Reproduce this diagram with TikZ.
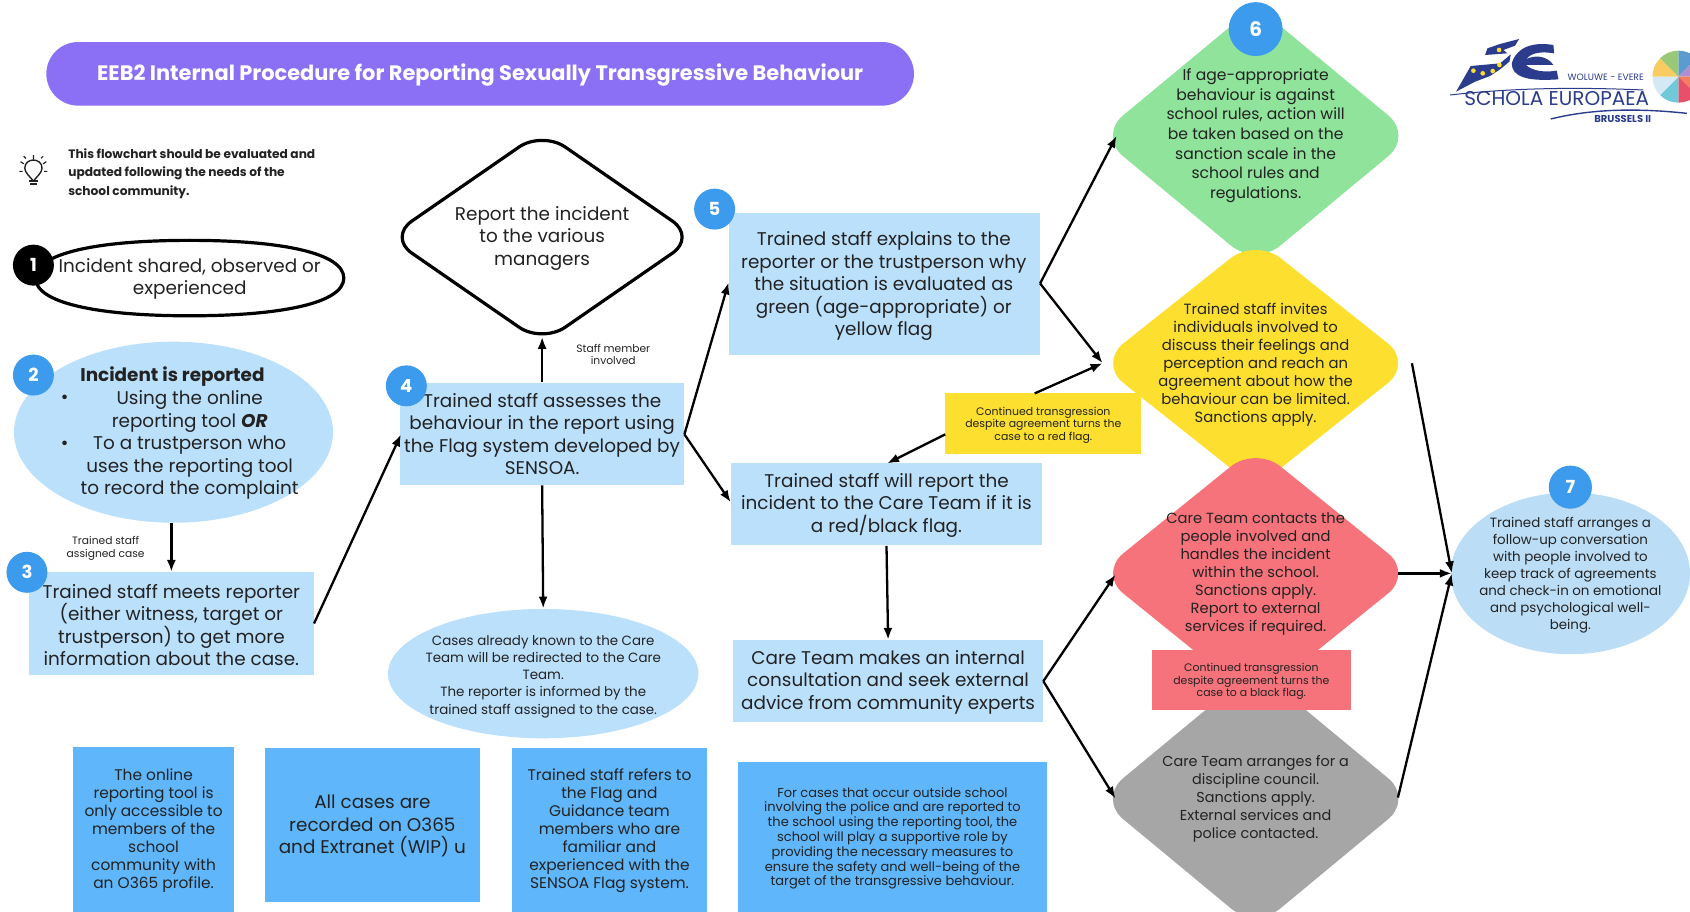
\documentclass[tikz,border=0pt]{standalone}
\usepackage{fontspec}
\setmainfont{Poppins}
\usetikzlibrary{arrows.meta,shapes.geometric}
\definecolor{purp}{HTML}{8B70F6}
\definecolor{lblue}{HTML}{BBE0FB}
\definecolor{mblue}{HTML}{5FB6FA}
\definecolor{badge}{HTML}{3D9BEE}
\definecolor{gdia}{HTML}{8FE39B}
\definecolor{ydia}{HTML}{FDE02F}
\definecolor{rdia}{HTML}{F6737C}
\definecolor{gray7}{HTML}{A6A6A6}
\definecolor{ink}{HTML}{222222}
\definecolor{logob}{HTML}{2B3C8C}
\definecolor{sevenb}{HTML}{BBDDF5}
\def\u{0.5389pt}
\tikzset{
 tx/.style={align=center,inner sep=0pt,text=ink,yshift=-1pt,font=\fontsize{9.2}{11.25}\selectfont},
 txs/.style={tx,font=\fontsize{7.7}{9}\selectfont},
 txm/.style={tx,font=\fontsize{6.5}{7.4}\selectfont},
 txn/.style={tx,font=\fontsize{5.35}{6.1}\selectfont},
 box/.style={rectangle,inner sep=0pt,draw=none,fill=#1},
 dia/.style={diamond,inner sep=0pt,rounded corners=16pt,fill=#1},
 badgec/.style={circle,inner sep=0pt,minimum size=38*\u,fill=#1,text=white,font=\fontsize{9}{10}\selectfont\bfseries},
 arr/.style={draw=black,line width=1.15pt,-{Latex[length=6pt,width=4.5pt]}},
}
\begin{document}
\begin{tikzpicture}[x=\u,y=-\u]
\useasboundingbox (0,0) rectangle (1568,846);
\clip (0,0) rectangle (1568,846);
\fill[white] (0,0) rectangle (1568,846);
% title
\node[box=purp,rounded corners=29.5*\u,minimum width=805*\u,minimum height=59*\u] (title) at (445.5,68.5) {};
\node[tx,text=white,font=\fontsize{10.45}{12}\selectfont\bfseries] (titlet) at (445.5,68) {EEB2 Internal Procedure for Reporting Sexually Transgressive Behaviour};
% bulb
\draw[line width=.7pt,draw=ink] (31,168) .. controls (27,163) and (23,160) .. (23,156) .. controls (23,146) and (39,146) .. (39,156) .. controls (39,160) and (35,163) .. (31,168);
\draw[line width=.9pt,draw=ink] (27,168) -- (35,168) (28,171) -- (34,171);
\draw[line width=.6pt,draw=ink] (31,148) -- (31,144) (22,152) -- (19,150) (40,152) -- (43,150) (21,159) -- (18,159) (41,159) -- (44,159) (24,147) -- (22,145) (38,147) -- (40,145);
\node[tx,align=left,anchor=west,font=\fontsize{6.1}{9.2}\selectfont\bfseries] (note) at (63,159) {This flowchart should be evaluated and\\updated following the needs of the\\school community.};
% 1
\draw[line width=1.6pt,draw=black,fill=white] (33,258) .. controls (33,235) and (90,223) .. (176,223) .. controls (262,223) and (319,235) .. (319,258) .. controls (319,281) and (262,293) .. (176,293) .. controls (90,293) and (33,281) .. (33,258) -- cycle;
\node[tx] (t1) at (176,257) {Incident shared, observed or\\experienced};
\node[badgec=black] (b1) at (31,246) {1};
% 2
\node[ellipse,inner sep=0pt,fill=lblue,minimum width=296*\u,minimum height=168*\u] (e2) at (161,401) {};
\node[tx] (t2) at (176,411) {Using the online\\reporting tool \textbf{\textit{OR}}\\To a trustperson who\\uses the reporting tool\\to record the complaint};
\node[tx,font=\fontsize{9.2}{11.25}\selectfont\bfseries] (t2h) at (160,348) {Incident is reported};
\node[tx] (bu1) at (60,369) {•};
\node[tx] (bu2) at (60,411) {•};
\node[badgec=badge] (b2) at (31,348) {2};
% 3
\node[box=lblue,minimum width=264*\u,minimum height=95*\u] (s3) at (159,578.5) {};
\node[tx] (t3) at (159,578) {Trained staff meets reporter\\(either witness, target or\\trustperson) to get more\\information about the case.};
\node[badgec=badge] (b3) at (25,531) {3};
\node[txn] (l3) at (98,507) {Trained staff\\assigned case};
% 4
\node[box=lblue,minimum width=264*\u,minimum height=95*\u] (s4) at (503,402.5) {};
\node[tx] (t4) at (503,401) {Trained staff assesses the\\behaviour in the report using\\the Flag system developed by\\SENSOA.};
\node[badgec=badge] (b4) at (377,358) {4};
% report diamond
\node[diamond,aspect=1.444,inner sep=0pt,rounded corners=14pt,draw=black,line width=1.6pt,fill=white,minimum width=286*\u,minimum height=198*\u] (rd) at (503,220) {};
\node[tx] (rdt) at (503,219) {Report the incident\\to the various\\managers};
\node[txn] (l4) at (569,327) {Staff member\\involved};
% cases ellipse
\node[ellipse,inner sep=0pt,fill=lblue,minimum width=288*\u,minimum height=120*\u] (e4) at (504,625) {};
\node[txm,font=\fontsize{6.7}{8.55}\selectfont] (e4t) at (504,626) {Cases already known to the Care\\Team will be redirected to the Care\\Team.\\The reporter is informed by the\\trained staff assigned to the case.};
% 5
\node[box=lblue,minimum width=289*\u,minimum height=131*\u] (s5) at (820.5,263.5) {};
\node[tx] (t5) at (820,263.5) {Trained staff explains to the\\reporter or the trustperson why\\the situation is evaluated as\\green (age-appropriate) or\\yellow flag};
\node[badgec=badge] (b5) at (663,194) {5};
% report to care
\node[box=lblue,minimum width=289*\u,minimum height=76*\u] (s5b) at (822.5,468) {};
\node[tx] (t5b) at (822.5,467) {Trained staff will report the\\incident to the Care Team if it is\\a red/black flag.};
\node[box=lblue,minimum width=288*\u,minimum height=76*\u] (s5c) at (824,632) {};
\node[tx] (t5c) at (824,631) {Care Team makes an internal\\consultation and seek external\\advice from community experts};
% diamonds
\node[dia=gdia,minimum width=292*\u,minimum height=242*\u,aspect=1.207] (d6) at (1165,126) {};
\node[dia=gray7,minimum width=292*\u,minimum height=242*\u,aspect=1.207] (d9) at (1165,741) {};
\node[dia=ydia,minimum width=292*\u,minimum height=232*\u,aspect=1.258] (d7) at (1165,337) {};
\node[dia=rdia,minimum width=292*\u,minimum height=236*\u,aspect=1.237] (d8) at (1165,532) {};
\node[txs,font=\fontsize{7.8}{9.8}\selectfont] (d6t) at (1165,124) {If age-appropriate\\behaviour is against\\school rules, action will\\be taken based on the\\sanction scale in the\\school rules and\\regulations.};
\node[txs,font=\fontsize{7.4}{9.05}\selectfont] (d7t) at (1165,336.5) {Trained staff invites\\individuals involved to\\discuss their feelings and\\perception and reach an\\agreement about how the\\behaviour can be limited.\\Sanctions apply.};
\node[txs,font=\fontsize{7.35}{9.05}\selectfont] (d8t) at (1165,530.5) {Care Team contacts the\\people involved and\\handles the incident\\within the school.\\Sanctions apply.\\Report to external\\services if required.};
\node[txs,font=\fontsize{7.2}{9.05}\selectfont] (d9t) at (1165,739.5) {Care Team arranges for a\\discipline council.\\Sanctions apply.\\External services and\\police contacted.};
\node[badgec=badge,minimum size=50*\u,font=\fontsize{10}{11}\selectfont\bfseries] (b6) at (1165,27) {6};
% small boxes
\node[box=ydia,minimum width=182*\u,minimum height=56*\u] (yb) at (968,393) {};
\node[txn,font=\fontsize{5.45}{6.2}\selectfont] (ybt) at (968,392.5) {Continued transgression\\despite agreement turns the\\case to a red flag.};
\node[box=rdia,minimum width=184*\u,minimum height=56*\u] (rb) at (1161,631) {};
\node[txn,font=\fontsize{5.45}{6.2}\selectfont] (rbt) at (1161,630.5) {Continued transgression\\despite agreement turns the\\case to a black flag.};
% 7
\node[ellipse,inner sep=0pt,fill=sevenb,minimum width=222*\u,minimum height=150*\u] (e7) at (1457,532) {};
\node[txm,font=\fontsize{6.7}{8.5}\selectfont] (e7t) at (1457,531.5) {Trained staff arranges a\\follow-up conversation\\with people involved to\\keep track of agreements\\and check-in on emotional\\and psychological well-\\being.};
\node[badgec=badge,minimum size=40*\u] (b7) at (1457,452) {7};
% bottom boxes
\node[box=mblue,minimum width=149*\u,minimum height=153*\u] (n1) at (142.5,769.5) {};
\node[txs] (n1t) at (142.5,769) {The online\\reporting tool is\\only accessible to\\members of the\\school\\community with\\an O365 profile.};
\node[box=mblue,minimum width=199*\u,minimum height=143*\u] (n2) at (345.5,765.5) {};
\node[tx] (n2t) at (345.5,764.5) {All cases are\\recorded on O365\\and Extranet (WIP) u};
\node[box=mblue,minimum width=181*\u,minimum height=152*\u] (n3) at (565.5,770) {};
\node[txs] (n3t) at (565.5,769) {Trained staff refers to\\the Flag and\\Guidance team\\members who are\\familiar and\\experienced with the\\SENSOA Flag system.};
\node[box=mblue,minimum width=286*\u,minimum height=139*\u] (n4) at (828,776.5) {};
\node[txm] (n4t) at (828,776) {For cases that occur outside school\\involving the police and are reported to\\the school using the reporting tool, the\\school will play a supportive role by\\providing the necessary measures to\\ensure the safety and well-being of the\\target of the transgressive behaviour.};
% connector points
\coordinate (j1) at (1023,337);
\coordinate (j7) at (1347,532);
\coordinate (d7r) at (1310,337);
\coordinate (a4) at (372,403);
\coordinate (s4r) at (635,403);
\coordinate (d8o) at (1297,532);
\coordinate (d9o) at (1297,740);
\coordinate (s5in) at (676,262);
\coordinate (s5bin) at (678,466);
\coordinate (s5o) at (965,263);
\coordinate (d6in) at (1036,126);
\coordinate (cco) at (968,632);
\coordinate (d8in) at (1035,533);
\coordinate (d9in) at (1035,741);
\coordinate (yn) at (960,365);
\coordinate (yw) at (877,403);
\coordinate (yt) at (823,430);
% connectors
\draw[arr] (e2.south -| s3.north) -- (s3.north);
\draw[arr] (s3.east) -- (a4);
\draw[arr] (s4.north) -- ([yshift=4.3pt]rd.south);
\draw[arr] (s4.south) -- (e4.north);
\draw[arr] (s4r) -- (s5in);
\draw[arr] (s4r) -- (s5bin);
\draw[arr] (s5b.south) -- (s5c.north);
\draw[arr] (s5o) -- (d6in);
\draw[arr] (s5o) -- (j1);
\draw[arr] (yn) -- (j1);
\draw[arr] (yw) -- (yt);
\draw[arr] (cco) -- (d8in);
\draw[arr] (cco) -- (d9in);
\draw[arr] (d7r) -- (j7);
\draw[arr] (d8o) -- (j7);
\draw[arr] (d9o) -- (j7);
% logo
\begin{scope}[shift={(1299,0)},x=0.3093*\u,y=-0.3093*\u]
\fill[logob] (168,275) -- (212,198) -- (300,190) -- (332,163) -- (328,185) -- (300,208) -- (270,228) -- (225,245) -- cycle;
\fill[logob] (255,165) -- (262,145) -- (300,132) -- (357,117) -- (345,137) -- (310,150) -- (322,160) -- cycle;
\fill[logob] (460,135) .. controls (400,125) and (350,140) .. (335,190) .. controls (335,230) and (380,245) .. (475,238) -- (470,212) .. controls (430,218) and (395,212) .. (378,195) -- (460,195) .. controls (440,165) and (400,165) .. (378,178) .. controls (395,155) and (430,155) .. (462,160) -- cycle;
\foreach \p in {(220,212),(248,220),(278,213),(298,195),(297,150)} \fill[ydia] \p circle (7);
\node[inner sep=0pt,text=logob,font=\fontsize{4.6}{5}\selectfont] (lg1) at (617,233) {WOLUWE - EVERE};
\node[inner sep=0pt,text=logob,font=\fontsize{10}{11}\selectfont] (lg2) at (470,297) {SCHOLA EUROPAEA};
\node[inner sep=0pt,text=logob,font=\fontsize{5}{6}\selectfont\bfseries] (lg3) at (668,358) {BRUSSELS II};
\draw[logob,line width=.5pt] (150,285) .. controls (350,262) and (550,262) .. (730,270);
\draw[logob,line width=.7pt] (452,357) .. controls (580,325) and (720,325) .. (860,340);
\foreach \a/\c in {90/5B9BD0,45/B08FD0,0/F08060,-45/E8506A,-90/70C8D8,-135/D5E9F5,180/F8CC60,135/98C878}{
 \definecolor{wc}{HTML}{\c}
 \fill[wc] (835,230) -- ++(-\a:78) arc[start angle=-\a,delta angle=45,radius=78] -- cycle;
}
\end{scope}
\end{tikzpicture}
\end{document}
